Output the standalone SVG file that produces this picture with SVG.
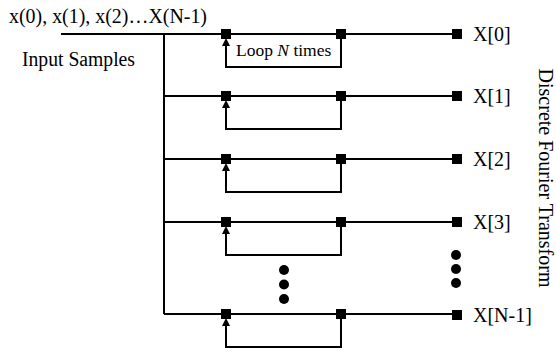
<svg xmlns="http://www.w3.org/2000/svg" width="556" height="352" viewBox="0 0 556 352">
<defs>
<style>
.w{stroke:#000;stroke-width:2;fill:none}
.t{font-family:"Liberation Serif","Times New Roman",serif;fill:#000;font-size:20px}
.s{fill:#000}
</style>
<rect id="sq" x="-5" y="-5" width="10" height="10" class="s"/>
<polygon id="ar" points="0,4 -4,12 4,12" class="s"/>
<g id="loop">
<path class="w" d="M0,11 V33 H115 V0"/>
<use href="#ar"/>
</g>
</defs>
<rect width="556" height="352" fill="#fff"/>
<g id="connectors">
<path class="w" d="M61,34 H452 M164,34 V314 M164,96 H452 M164,159 H452 M164,222 H452 M164,314 H452"/>
<use href="#loop" x="226" y="34"/>
<use href="#loop" x="226" y="96"/>
<use href="#loop" x="226" y="159"/>
<use href="#loop" x="226" y="222"/>
<use href="#loop" x="226" y="314"/>
</g>
<g id="labels">
<text class="t" x="9" y="23" textLength="198" lengthAdjust="spacingAndGlyphs">x(0), x(1), x(2)…X(N-1)</text>
<text class="t" x="22" y="66" textLength="113" lengthAdjust="spacingAndGlyphs">Input Samples</text>
<text class="t" x="236" y="56" style="font-size:17.5px">Loop <tspan font-style="italic">N</tspan> times</text>
<text class="t" transform="translate(539,178) rotate(90)" text-anchor="middle">Discrete Fourier Transform</text>
</g>
<g id="row0"><use href="#sq" x="226" y="34"/><use href="#sq" x="341" y="34"/><use href="#sq" x="457" y="34"/><text class="t" x="473" y="41">X[0]</text></g>
<g id="row1"><use href="#sq" x="226" y="96"/><use href="#sq" x="341" y="96"/><use href="#sq" x="457" y="96"/><text class="t" x="473" y="103">X[1]</text></g>
<g id="row2"><use href="#sq" x="226" y="159"/><use href="#sq" x="341" y="159"/><use href="#sq" x="457" y="159"/><text class="t" x="473" y="166">X[2]</text></g>
<g id="row3"><use href="#sq" x="226" y="222"/><use href="#sq" x="341" y="222"/><use href="#sq" x="457" y="222"/><text class="t" x="473" y="229">X[3]</text></g>
<g id="rowN"><use href="#sq" x="226" y="314"/><use href="#sq" x="341" y="314"/><use href="#sq" x="457" y="315"/><text class="t" x="473" y="322">X[N-1]</text></g>
<g id="dots">
<circle cx="284" cy="270" r="5" class="s"/><circle cx="284" cy="284.5" r="5" class="s"/><circle cx="284" cy="299" r="5" class="s"/>
<circle cx="456" cy="255" r="5" class="s"/><circle cx="456" cy="269" r="5" class="s"/><circle cx="456" cy="283" r="5" class="s"/>
</g>
</svg>
